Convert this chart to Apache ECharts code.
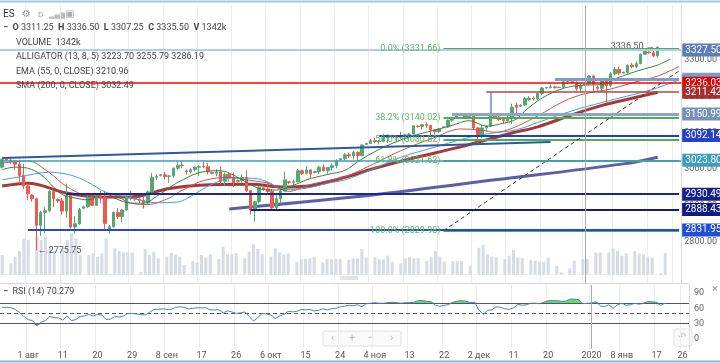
<!DOCTYPE html>
<html><head><meta charset="utf-8">
<script src="https://cdn.jsdelivr.net/npm/echarts@6/dist/echarts.min.js"></script>
<style>html,body{margin:0;padding:0;background:#fff}#c{width:720px;height:363px}</style>
</head><body><div id="c"></div>
<script>
// ---------- data ----------
const dates = ['07-26','07-28','07-29','07-30','07-31','08-01','08-02','08-04','08-05','08-06','08-07','08-08','08-09','08-11','08-12','08-13','08-14','08-15','08-16','08-18','08-19','08-20','08-21','08-22','08-23','08-25','08-26','08-27','08-28','08-29','08-30','09-01','09-02','09-03','09-04','09-05','09-06','09-08','09-09','09-10','09-11','09-12','09-13','09-15','09-16','09-17','09-18','09-19','09-20','09-22','09-23','09-24','09-25','09-26','09-27','09-29','09-30','10-01','10-02','10-03','10-04','10-06','10-07','10-08','10-09','10-10','10-11','10-13','10-14','10-15','10-16','10-17','10-18','10-20','10-21','10-22','10-23','10-24','10-25','10-27','10-28','10-29','10-30','10-31','11-01','11-03','11-04','11-05','11-06','11-07','11-08','11-10','11-11','11-12','11-13','11-14','11-15','11-17','11-18','11-19','11-20','11-21','11-22','11-24','11-25','11-26','11-27','11-28','11-29','12-01','12-02','12-03','12-04','12-05','12-06','12-08','12-09','12-10','12-11','12-12','12-13','12-15','12-16','12-17','12-18','12-19','12-20','12-22','12-23','12-24','12-25','12-26','12-27','12-29','12-30','12-31','01-01','01-02','01-03','01-05','01-06','01-07','01-08','01-09','01-10','01-12','01-13','01-14','01-15','01-16','01-17','01-19','01-20','01-21','01-22','01-23','01-24','01-26','01-27'];
const tickLabels = [['08-02','1 авг'],['08-12','11'],['08-21','20'],['08-30','29'],['09-09','8 сен'],['09-18','17'],['09-27','26'],['10-07','6 окт'],['10-16','15'],['10-25','24'],['11-04','4 ноя'],['11-13','13'],['11-22','22'],['12-02','2 дек'],['12-11','11'],['12-20','20'],['01-01','2020'],['01-09','8 янв'],['01-19','17'],['01-26','26']];
// [open, close, low, high]
const ohlc = [
[3005,3026,3001,3029],[3027,3025,3022,3029],[3025,3021,3014,3030],[3021,3013,2997,3023],[3013,2982,2959,3026],
[2982,2953,2945,3014],[2953,2932,2914,2958],[2928,2918,2910,2931],[2918,2845,2775.75,2921],[2845,2880,2816,2885],
[2880,2885,2823,2895],[2885,2938,2882,2941],[2938,2918,2895,2940],[2916,2912,2907,2919],[2912,2884,2874,2920],
[2884,2928,2865,2960],[2928,2840,2836,2932],[2840,2849,2822,2870],[2849,2888,2846,2893],[2892,2896,2889,2899],
[2896,2922,2893,2931],[2922,2900,2898,2927],[2900,2924,2899,2930],[2924,2922,2905,2940],[2922,2850,2835,2940],
[2832,2841,2822,2846],[2841,2880,2838,2883],[2880,2869,2862,2892],[2869,2887,2853,2890],[2887,2924,2886,2930],
[2924,2926,2914,2940],[2921,2917,2912,2923],[2917,2913,2906,2919],[2913,2906,2891,2925],[2906,2937,2904,2941],
[2937,2977,2936,2989],[2977,2979,2970,2986],[2982,2984,2979,2986],[2984,2979,2971,2992],[2979,2981,2962,2984],
[2981,3002,2975,3004],[3002,3010,2998,3021],[3010,3009,3002,3022],[2995,2992,2985,2998],[2992,2998,2987,3002],
[2998,3005,2993,3006],[3005,3007,2980,3010],[3007,3006,3002,3022],[3006,2992,2985,3016],[2990,2988,2985,2993],
[2988,2992,2980,2999],[2992,2966,2957,3007],[2966,2985,2952,2990],[2985,2977,2965,2990],[2977,2962,2950,2991],
[2965,2968,2962,2971],[2968,2977,2962,2986],[2977,2940,2936,2996],[2940,2887,2874,2942],[2887,2910,2855,2912],
[2910,2950,2905,2952],[2948,2945,2940,2950],[2945,2938,2930,2962],[2938,2893,2890,2945],[2893,2918,2889,2927],
[2918,2939,2905,2950],[2939,2970,2938,2993],[2965,2963,2958,2967],[2963,2965,2955,2971],[2965,2995,2963,3000],
[2995,2988,2983,2998],[2988,2997,2985,3008],[2997,2986,2976,3000],[2990,2993,2988,2995],[2993,3005,2987,3009],
[3005,2995,2993,3013],[2995,3004,2987,3005],[3004,3009,2995,3015],[3009,3022,3002,3027],[3025,3028,3023,3030],
[3028,3039,3024,3044],[3039,3036,3030,3045],[3036,3046,3026,3050],[3046,3037,3022,3048],[3037,3066,3035,3068],
[3068,3070,3066,3072],[3070,3078,3068,3083],[3078,3075,3071,3086],[3075,3077,3068,3080],[3077,3086,3074,3097],
[3086,3093,3071,3094],[3090,3088,3084,3091],[3088,3087,3073,3091],[3087,3091,3083,3102],[3091,3094,3079,3097],
[3094,3096,3082,3099],[3096,3119,3095,3120],[3118,3117,3114,3120],[3117,3122,3109,3124],[3122,3120,3113,3128],
[3120,3108,3090,3121],[3108,3103,3095,3110],[3103,3110,3098,3113],[3114,3116,3112,3118],[3116,3134,3113,3136],
[3134,3141,3130,3142],[3141,3152,3139,3155],[3152,3151,3149,3154],[3151,3141,3138,3154],[3144,3146,3142,3149],
[3146,3113,3108,3154],[3113,3092,3070,3115],[3092,3113,3085,3120],[3113,3117,3102,3120],[3117,3146,3116,3150],
[3145,3143,3141,3147],[3143,3136,3133,3150],[3136,3133,3125,3143],[3133,3142,3130,3148],[3142,3170,3124,3180],
[3176,3170,3150,3182],[3173,3176,3171,3178],[3176,3194,3174,3198],[3191,3195,3188,3201],[3195,3193,3188,3200],
[3193,3208,3190,3209],[3208,3223,3203,3226],[3223,3224,3221,3226],[3224,3226,3222,3233],[3226,3224,3221,3229],
[3224,3225,3223,3226],[3225,3240,3223,3241],[3240,3241,3233,3249],[3240,3238,3236,3242],[3238,3221,3214,3241],
[3221,3231,3211,3235],[3231,3234,3230,3236],[3234,3256,3230,3259],[3256,3234,3213,3258],[3225,3222,3215,3230],
[3222,3244,3212,3248],[3244,3230,3181,3249],[3230,3262,3225,3267],[3262,3274,3258,3281],[3274,3264,3258,3282],
[3264,3266,3262,3268],[3266,3286,3262,3287],[3286,3282,3278,3292],[3282,3290,3277,3296],[3290,3316,3288,3317],
[3316,3325,3314,3330],[3322,3320,3317,3324],[3320,3311,3308,3326],[3311.25,3335.50,3307.25,3336.50]
];
const volume = [1220,40,710,1120,1460,2200,2140,50,2340,2140,2340,1700,1500,40,1630,2140,2540,2240,1220,30,
1220,1320,1120,1320,2240,60,1630,1460,1380,1380,1380,20,200,1590,1220,1420,1020,30,1120,1360,
1260,1120,610,40,850,770,1220,1060,1260,30,980,1730,1260,1260,1320,30,1020,1420,1870,1590,
1260,30,1120,1630,1380,1260,1320,30,810,980,980,1020,1120,30,770,980,960,980,980,30,
920,1020,1020,1590,1060,30,1080,960,960,1180,810,30,710,1020,1080,1020,1020,30,850,1080,
1460,1120,810,30,850,850,850,40,570,30,1670,1830,1260,1120,1080,30,960,1180,1530,1060,
1020,30,920,880,810,810,1060,30,550,160,20,410,850,30,980,980,30,1380,1380,40,
1380,1630,1460,1180,1320,30,1460,1320,1260,1120,1060,30,100,1342];
const rsi = [62,62,61,58,52,44,38,36,26,33, 36,44,42,41,37,45,36,38,44,45, 48,45,48,47,38,39,44,43,45,50,
50,49,48,47,52,58,58,59,58,58, 62,63,62,59,60,61,61,61,57,57, 57,51,55,53,50,51,53,44,35,42,
50,49,47,40,45,48,54,53,54,58, 57,58,55,56,59,57,59,60,63,64, 66,65,67,63,69,70,71,70,70,71,
72,71,70,71,71,72,75,75,74,73, 66,64,66,67,72,74,75,74,71,72, 57,48,56,57,63,62,59,58,61,68,
66,67,70,70,69,72,75,75,75,74, 74,78,78,77,69,70,70,73,65,63, 67,60,67,70,66,67,70,68,70,73,
73,72,66,70.279];
// indicator lines: [bar index, value]
const lips = [[0,2998],[3,3005],[6,3002],[9,2985],[12,2950],[14,2930],[17,2920],[20,2915],[24,2932],[27,2916],[30,2906],[33,2906],[36,2924],[39,2948],[41,2963],[46,2990],[51,2995],[54,2983],[58,2957],[61,2943],[64,2942],[67,2950],[71,2970],[76,2985],[80,2996],[83,3020],[87,3048],[92,3075],[96,3092],[101,3107],[105,3120],[109,3133],[113,3118],[117,3126],[120,3137],[122,3160],[126,3195],[131,3222],[136,3231],[140,3232],[143,3248],[147,3265],[150,3276],[153,3286.19],[156,3303]];
const teeth = [[0,3016],[6,3022],[11,2990],[15,2952],[20,2928],[25,2932],[30,2906],[34,2902],[39,2920],[41,2935],[43,2947],[47,2968],[53,2977],[57,2970],[62,2961],[64,2950],[67,2938],[71,2954],[76,2968],[80,2978],[86,3010],[93,3050],[101,3087],[107,3110],[112,3107],[115,3101],[119,3112],[125,3146],[131,3186],[136,3207],[142,3220],[147,3237],[151,3249],[153,3255.79],[156,3271],[158,3282]];
const jaw = [[0,2970],[4,2978],[11,2991],[16,2983],[20,2964],[24,2937],[27,2928],[32,2915],[36,2907],[41,2909],[43,2918],[49,2958],[54,2975],[59,2974],[62,2964],[66,2943],[71,2947],[76,2961],[80,2970],[86,2997],[93,3032],[101,3060],[109,3087],[114,3098],[120,3108],[125,3128],[133,3160],[140,3183],[146,3201],[150,3213],[153,3223.70],[158,3245]];
const ema55 = [[0,2953],[6,2961],[15,2934],[23,2923],[30,2923],[39,2946],[46,2955],[58,2958],[66,2950],[73,2956],[80,2977],[87,3002],[96,3030],[106,3058],[119,3099],[125,3116],[133,3149],[140,3175],[146,3192],[153,3210.96]];
const sma200 = [[53,2890],[83,2924],[115,2970],[145,3014],[153,3032.49]];
// drawn levels
const levelPrices = [3327.50, 3247.00, 3236.03, 3211.42, 3150.99, 3092.14, 3023.80, 2930.49, 2888.43, 2831.95];
const levelStarts = [null, '12-24', null, '12-05', '11-26', '11-06', null, '08-13', '10-02', '08-02'];
const fibPct = [0, 38.2, 50, 61.8, 100];
const fibPrices = [3331.66, 3140.02, 3080.82, 3021.62, 2829.98];
const fibStart = '11-24';
const trendDashed = [['11-24', 2829.98], ['01-27', 3270]];
const trendUpper = [['07-26', 3030], ['12-23', 3074]];
const bracket = [['12-06', 3211.42], ['12-06', 3150.99]];
const highMark = ['01-21', 3336.50];
const lowMark = ['08-05', 2775.75];
const priceTicks = [2800, 2900, 3000, 3100, 3200, 3300];
const rsiTicks = [0, 30, 60, 90];
const rsiLevels = [70, 50, 30];
const last = ['3311.25', '3336.50', '3307.25', '3335.50', '1342k'];
const legendVals = ['3223.70', '3255.79', '3286.19', '3210.96', '3032.49', '70.279'];

// ---------- chart ----------
const F = 'Roboto, "Noto Sans", sans-serif';
const tickMap = Object.fromEntries(tickLabels);
const isTick = (i, v) => Object.prototype.hasOwnProperty.call(tickMap, v);
const lastDate = dates[dates.length - 1];

// [line colour, line width, box colour, text colour]
const levelStyle = [
  ['#b3cbe8', 2, '#5a7db5', '#fff'], ['#7f9bc7', 3, '#7f9bc7', '#7f9bc7'], ['#ff0000', 1.5, '#e50000', '#fff'],
  ['#b04848', 1.5, '#a52f2f', '#fff'], ['#8ca5c9', 3, '#7590ba', '#fff'], ['#2140c0', 2, '#2742c6', '#fff'],
  ['#3a9cc0', 1.5, '#3a9fbd', '#fff'], ['#1c2796', 2, '#151f8f', '#fff'], ['#0f1c82', 2, '#0e1a7e', '#fff'],
  ['#2449cc', 2, '#1f4fd6', '#fff']
];
const ml = [];
fibPrices.forEach((p, k) => {
  ml.push([{coord: [fibStart, p], lineStyle: {color: '#4caf50', width: 2, type: 'solid'},
    label: {show: true, position: 'start', distance: 3, formatter: fibPct[k].toFixed(1) + '% (' + p.toFixed(2) + ')',
      color: '#5cb85c', fontSize: 9, fontFamily: F}}, {coord: [lastDate, p]}]);
});
ml.push([{coord: trendUpper[0], lineStyle: {color: '#2c5a9e', width: 2, type: 'solid'}, label: {show: false}}, {coord: trendUpper[1]}]);
ml.push([{coord: trendDashed[0], lineStyle: {color: '#333', width: 1, type: [4, 3]}, label: {show: false}}, {coord: trendDashed[1]}]);
ml.push([{coord: bracket[0], lineStyle: {color: '#5b8fd0', width: 1.5, type: 'solid'}, label: {show: false}}, {coord: bracket[1]}]);
levelPrices.forEach((p, k) => {
  const [lc, lw, bc, tc] = levelStyle[k];
  const label = {show: true, position: 'end', distance: levelStarts[k] ? 3 : 1, formatter: p.toFixed(2),
    color: tc, backgroundColor: bc, padding: [2, 4, 1, 3], fontSize: 10, fontFamily: F};
  const ls = {color: lc, width: lw, type: 'solid'};
  if (levelStarts[k]) ml.push([{coord: [levelStarts[k], p], lineStyle: ls, label}, {coord: [lastDate, p]}]);
  else ml.push({yAxis: p, lineStyle: ls, label});
});
ml.push({xAxis: '01-01', lineStyle: {color: '#aaa', width: 1, type: 'solid'}, label: {show: false}});

const lineS = (name, data, color, width, z) => ({
  name, type: 'line', xAxisIndex: 0, yAxisIndex: 0, data, smooth: 0.35, symbol: 'none',
  lineStyle: {color, width}, z, silent: true, clip: false
});

const txt = (x, y, rich, text) => ({type: 'text', x, y, z: 100,
  style: {text, verticalAlign: 'middle', font: '9px ' + F, fill: '#444', rich}});
const R = {
  b: {fontWeight: 'bold', fontSize: 9, fontFamily: F, color: '#222'},
  n: {fontSize: 9, fontFamily: F, color: '#333'},
  g: {fontSize: 9, fontFamily: F, color: '#444'},
  vol: {fontSize: 9, fontFamily: F, color: '#9fb0c2'},
  jaw: {fontSize: 9, fontFamily: F, color: '#2b8ad6'},
  teeth: {fontSize: 9, fontFamily: F, color: '#c0483c'},
  lips: {fontSize: 9, fontFamily: F, color: '#3e8a45'},
  ema: {fontSize: 9, fontFamily: F, color: '#b03a3a'},
  sma: {fontSize: 9, fontFamily: F, color: '#5560b0'},
  rsi: {fontSize: 9, fontFamily: F, color: '#4f7fc8'}
};

const gridCommon = {left: 0, right: 31};
const option = {
  animation: false,
  grid: [
    Object.assign({top: 5, height: 279}, gridCommon),
    Object.assign({top: 230, height: 45}, gridCommon),
    Object.assign({top: 285, height: 64}, gridCommon)
  ],
  xAxis: [
    {type: 'category', gridIndex: 0, data: dates, boundaryGap: true, axisLine: {show: false}, axisTick: {show: false},
     axisLabel: {show: false}, splitLine: {show: true, interval: isTick, lineStyle: {color: '#ececec'}}},
    {type: 'category', gridIndex: 1, data: dates, show: false},
    {type: 'category', gridIndex: 2, data: dates, boundaryGap: true, axisLine: {show: false}, axisTick: {show: false},
     axisLabel: {show: true, interval: isTick, formatter: v => tickMap[v] || '', color: '#555', fontSize: 9, fontFamily: F, margin: 2},
     splitLine: {show: true, interval: isTick, lineStyle: {color: '#ececec'}}}
  ],
  yAxis: [
    {type: 'value', gridIndex: 0, position: 'right', min: 2683.27, max: 3451.44,
     axisLine: {show: true, lineStyle: {color: '#ddd'}}, axisTick: {show: false}, splitLine: {show: false},
     axisLabel: {show: true, customValues: priceTicks, formatter: v => v.toFixed(2), color: '#666', fontSize: 9, fontFamily: F, margin: 3}},
    {type: 'value', gridIndex: 1, min: 0, max: 2745, show: false},
    {type: 'value', gridIndex: 2, position: 'right', min: -19.6, max: 105.65,
     axisLine: {show: true, lineStyle: {color: '#ddd'}}, axisTick: {show: false}, splitLine: {show: false},
     axisLabel: {show: true, customValues: rsiTicks, color: '#666', fontSize: 9, fontFamily: F, margin: 5}}
  ],
  series: [
    {name: 'Volume', type: 'bar', xAxisIndex: 1, yAxisIndex: 1, data: volume, barWidth: 3,
     itemStyle: {color: '#d6dce3'}, silent: true, z: 1},
    lineS('SMA200', sma200, '#5b5fa8', 3, 3),
    lineS('EMA55', ema55, '#a83838', 3, 3),
    {name: 'ES', type: 'candlestick', xAxisIndex: 0, yAxisIndex: 0, data: ohlc, barWidth: 3, z: 4, silent: true,
     itemStyle: {color: '#56a870', color0: '#ec5a51', borderColor: '#56a870', borderColor0: '#ec5a51', borderWidth: 1},
     markLine: {symbol: ['none', 'none'], silent: true, animation: false, data: ml, z: 6},
     markPoint: {symbol: 'circle', symbolSize: 0, silent: true, animation: false,
       itemStyle: {color: 'rgba(0,0,0,0)'},
       data: [
         {coord: highMark, label: {show: true, position: 'left', distance: 3, formatter: highMark[1].toFixed(2) + ' →', color: '#555', fontSize: 9, fontFamily: F}},
         {coord: lowMark, label: {show: true, position: 'right', distance: 1, formatter: '← ' + lowMark[1].toFixed(2), color: '#555', fontSize: 9, fontFamily: F}}
       ]}},
    lineS('Jaw', jaw, '#3fa0e0', 1, 5),
    lineS('Teeth', teeth, '#c4574a', 1, 5),
    lineS('Lips', lips, '#3b8040', 1, 5),
    {type: 'line', xAxisIndex: 2, yAxisIndex: 2, stack: 'ob', data: rsi.map(() => 70), symbol: 'none', lineStyle: {width: 0, opacity: 0}, silent: true},
    {type: 'line', xAxisIndex: 2, yAxisIndex: 2, stack: 'ob', data: rsi.map(v => Math.max(v - 70, 0)), symbol: 'none', lineStyle: {width: 0, opacity: 0}, areaStyle: {color: '#5fe05f', opacity: 1}, silent: true},
    {type: 'line', xAxisIndex: 2, yAxisIndex: 2, stack: 'os', data: rsi.map(v => Math.min(v, 30)), symbol: 'none', lineStyle: {width: 0, opacity: 0}, silent: true},
    {type: 'line', xAxisIndex: 2, yAxisIndex: 2, stack: 'os', data: rsi.map(v => 30 - Math.min(v, 30)), symbol: 'none', lineStyle: {width: 0, opacity: 0}, areaStyle: {color: '#e06060', opacity: 1}, silent: true},
    {name: 'RSI', type: 'line', xAxisIndex: 2, yAxisIndex: 2, data: rsi, symbol: 'none', lineStyle: {color: '#4f7fc8', width: 1}, z: 5, silent: true,
     markLine: {symbol: ['none', 'none'], silent: true, animation: false, label: {show: false},
       data: [
         {yAxis: rsiLevels[0], lineStyle: {color: '#555', width: 1, type: 'solid'}},
         {yAxis: rsiLevels[1], lineStyle: {color: '#555', width: 1, type: [4, 3]}},
         {yAxis: rsiLevels[2], lineStyle: {color: '#555', width: 1, type: 'solid'}},
         {xAxis: '01-01', lineStyle: {color: '#aaa', width: 1, type: 'solid'}}
       ]}}
  ],
  graphic: [
    {type: 'line', shape: {x1: 0, y1: 1.5, x2: 720, y2: 1.5}, style: {stroke: '#a8c4e6', lineWidth: 2}, silent: true},
    {type: 'line', shape: {x1: 0, y1: 283.5, x2: 689, y2: 283.5}, style: {stroke: '#d6d6d6', lineWidth: 1}, silent: true},
    {type: 'line', shape: {x1: 0, y1: 361.5, x2: 720, y2: 361.5}, style: {stroke: '#8fb4e0', lineWidth: 2}, silent: true},
    {type: 'rect', shape: {x: 340, y: 276, width: 18, height: 4}, style: {fill: '#e4e4e4'}, silent: true},
    {type: 'text', x: 3, y: 14, style: {text: 'ES', fill: '#333', font: '10px ' + F, verticalAlign: 'middle'}},
    {type: 'text', x: 22, y: 14, style: {text: '⚙', fill: '#888', font: '10px "DejaVu Sans"', verticalAlign: 'middle'}},
    {type: 'text', x: 38, y: 15, style: {text: 'D', fill: '#999', font: '8px ' + F, verticalAlign: 'middle'}},
    {type: 'text', x: 49, y: 15, style: {text: '▂▄▆', fill: '#bbb', font: '7px "DejaVu Sans"', verticalAlign: 'middle'}},
    {type: 'text', x: 65, y: 14, style: {text: '▣', fill: '#aaa', font: '10px "DejaVu Sans"', verticalAlign: 'middle'}},
    txt(3, 28, R, '{b|−}  {b|O} {n|' + last[0] + '}  {b|H} {n|' + last[1] + '}  {b|L} {n|' + last[2] + '}  {b|C} {n|' + last[3] + '}  {b|V} {n|' + last[4] + '}'),
    txt(16, 43, R, '{g|VOLUME}  {vol|' + last[4] + '}'),
    txt(16, 57, R, '{g|ALLIGATOR (13, 8, 5)} {jaw|' + legendVals[0] + '} {teeth|' + legendVals[1] + '} {lips|' + legendVals[2] + '}'),
    txt(16, 72, R, '{g|EMA (55, 0, CLOSE)} {ema|' + legendVals[3] + '}'),
    txt(16, 86, R, '{g|SMA (200, 0, CLOSE)} {sma|' + legendVals[4] + '}'),
    txt(3, 292, R, '{b|−}  {n|RSI (14)} {rsi|' + legendVals[5] + '}'),
    {type: 'text', x: 712, y: 289, style: {text: '×', fill: '#999', font: '11px ' + F, verticalAlign: 'middle'}},
    {type: 'rect', shape: {x: 323, y: 331, width: 78, height: 15, r: 2}, style: {fill: '#fafafa', stroke: '#e0e0e0', lineWidth: 1}},
    {type: 'text', x: 331, y: 338.5, style: {text: '‹', fill: '#bbb', font: '11px ' + F, verticalAlign: 'middle'}},
    {type: 'text', x: 349, y: 338.5, style: {text: '+', fill: '#bbb', font: '11px ' + F, verticalAlign: 'middle'}},
    {type: 'text', x: 368, y: 338.5, style: {text: '−', fill: '#bbb', font: '11px ' + F, verticalAlign: 'middle'}},
    {type: 'text', x: 390, y: 338.5, style: {text: '›', fill: '#bbb', font: '11px ' + F, verticalAlign: 'middle'}},
    {type: 'rect', shape: {x: 674, y: 329, width: 18, height: 17, r: 2}, style: {fill: '#fafafa', stroke: '#e0e0e0', lineWidth: 1}},
    {type: 'text', x: 678, y: 337.5, style: {text: '↶', fill: '#bbb', font: '10px "DejaVu Sans"', verticalAlign: 'middle'}}
  ]
};
const chart = echarts.init(document.getElementById('c'), null, {renderer: 'canvas', width: 720, height: 363});
chart.setOption(option);
</script></body></html>
